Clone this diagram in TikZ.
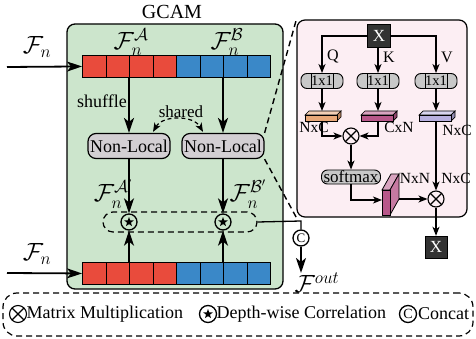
\documentclass[tikz,border=0pt]{standalone}
\usepackage{fontspec}
\setmainfont{Liberation Serif}
\usetikzlibrary{arrows.meta,shapes.geometric,calc}
\definecolor{gfill}{HTML}{CCE5CC}
\definecolor{pfill}{HTML}{FCEEF3}
\definecolor{cred}{HTML}{E94B3C}
\definecolor{cblue}{HTML}{3A88C8}
\definecolor{nlgray}{HTML}{D3CFD3}
\definecolor{kgray}{HTML}{C8C8C8}
\definecolor{dbox}{HTML}{333333}
\definecolor{qcol}{HTML}{E8A878}
\definecolor{kcol}{HTML}{B8578A}
\definecolor{vcol}{HTML}{B8B0E0}
\tikzset{
 fs/.style={font=\fontsize{#1}{#1}\selectfont},
 arr/.style={line width=1.8pt,-{Stealth[length=15pt,width=10pt,inset=4pt]}},
 parr/.style={line width=1.2pt,-{Stealth[length=9pt,width=7pt,inset=2.5pt]}},
 cell/.style={draw,line width=0.9pt,minimum width=23.5pt,minimum height=22pt,inner sep=0,anchor=north west},
 nl/.style={draw,line width=1.2pt,rounded corners=8pt,fill=nlgray,minimum width=82pt,minimum height=25pt,inner sep=0,fs=18},
 lab/.style={inner sep=0,fs=18},
 mlab/.style={inner sep=0,fs=23},
 plab/.style={inner sep=0,fs=15.5},
 starc/.style={circle,draw,line width=1.3pt,minimum size=16pt,inner sep=0},
 mul/.style={circle,draw,line width=1.1pt,minimum size=16pt,inner sep=0,
   path picture={\draw[line width=1.1pt] (path picture bounding box.south west)--(path picture bounding box.north east)
   (path picture bounding box.north west)--(path picture bounding box.south east);}},
 concat/.style={circle,draw,line width=1.3pt,minimum size=16pt,inner sep=0,fs=13},
 onexone/.style={draw,line width=0.9pt,rounded corners=6pt,fill=kgray,minimum width=42pt,minimum height=15pt,inner sep=0,fs=14.5,
   path picture={\draw[line width=0.9pt] ([xshift=10pt]path picture bounding box.south west)--([xshift=10pt]path picture bounding box.north west)
   ([xshift=-10pt]path picture bounding box.south east)--([xshift=-10pt]path picture bounding box.north east);}},
 xbox/.style={draw,fill=dbox,text=white,minimum width=23pt,minimum height=23pt,inner sep=0,fs=17},
 pics/flatslab/.style={code={
   \draw[line width=0.7pt,fill=#1!55!white] (-17,-1)--(-13,-5)--(19,-5)--(15,-1)--cycle;
   \draw[line width=0.7pt,fill=#1!80!black] (15,-1)--(19,-5)--(19,1)--(15,5)--cycle;
   \draw[line width=0.7pt,fill=#1] (-17,-1) rectangle (15,5);}}
}
\begin{document}
\begin{tikzpicture}[x=1pt,y=-1pt]
\useasboundingbox (0,0) rectangle (476,339);
% ---------- GCAM ----------
\node[fs=20,inner sep=0] (title) at (172,12) {GCAM};
\node[draw,line width=1.3pt,rounded corners=8pt,fill=gfill,minimum width=216pt,minimum height=265pt] (gbox) at (175,156.5) {};
\foreach \i in {0,...,3}{
  \node[cell,fill=cred] (t\i) at (82+23.5*\i,55) {};
  \node[cell,fill=cred] (b\i) at (82+23.5*\i,262) {};}
\foreach \i in {4,...,7}{
  \node[cell,fill=cblue] (t\i) at (82+23.5*\i,55) {};
  \node[cell,fill=cblue] (b\i) at (82+23.5*\i,262) {};}
\coordinate (in1) at (7,67);
\coordinate (in2) at (7,273);
\draw[arr] (in1) -- (t0.west);
\draw[arr] (in2) -- (b0.west);
\node[mlab] (fn1) at (37,47) {$\mathcal{F}_n$};
\node[mlab] (fn2) at (37,254) {$\mathcal{F}_n$};
\node[mlab] (fa) at (131,42) {$\mathcal{F}_n^{\mathcal{A}}$};
\node[mlab] (fb) at (227,42) {$\mathcal{F}_n^{\mathcal{B}}$};
\node[nl] (nlA) at (129,146) {Non-Local};
\node[nl] (nlB) at (223,146) {Non-Local};
\draw[arr] (t2.south west) -- (nlA.north);
\draw[arr] (t6.south west) -- (nlB.north);
\node[lab] (shuf) at (102,101) {shuffle};
\node[lab,fs=17] (shar) at (181,112) {shared};
\draw[line width=1.2pt,dash pattern=on 4pt off 3pt,{Stealth[length=9pt,width=7pt,inset=2.5pt]}-{Stealth[length=9pt,width=7pt,inset=2.5pt]}]
  ($(nlA.north)+(24,-1)$) to[out=60,in=120] ($(nlB.north)+(-20,-1)$);
\node[draw,line width=1.2pt,dash pattern=on 6pt off 4pt,rounded corners=10pt,minimum width=154pt,minimum height=20pt] (dbx) at (180,222) {};
\node[starc] (sA) at (129,222) {};
\node[starc] (sB) at (223,222) {};
\node[star,star points=5,star point ratio=2.4,fill,inner sep=0,minimum size=10pt] (stA) at (sA) {};
\node[star,star points=5,star point ratio=2.4,fill,inner sep=0,minimum size=10pt] (stB) at (sB) {};
\draw[arr] (nlA.south) -- (sA.north);
\draw[arr] (nlB.south) -- (sB.north);
\draw[arr] (b2.north west) -- (sA.south);
\draw[arr] (b6.north west) -- (sB.south);
\node[mlab] (fa2) at (113,194) {$\mathcal{F}_n^{\mathcal{A}'}$};
\node[mlab] (fb2) at (248,194) {$\mathcal{F}_n^{\mathcal{B}'}$};
\coordinate (oc) at (301,221);
\node[concat] (cc) at (301,238) {C};
\node[mlab] (fout) at (317,283) {$\mathcal{F}^{out}$};
\draw[line width=1.3pt] (dbx.east) -- (oc) -- (cc.north);
\draw[arr] (cc.south) -- (cc.south |- fout.north);
% ---------- Non-local detail ----------
\node[draw,line width=1.2pt,rounded corners=8pt,fill=pfill,minimum width=170pt,minimum height=197pt] (pbox) at (382,118.5) {};
\draw[line width=1.4pt,dash pattern=on 6pt off 4pt] (nlB.north east) -- (pbox.north west);
\draw[line width=1.4pt,dash pattern=on 6pt off 4pt] (nlB.south east) -- (pbox.south west);
\node[xbox] (xt) at (379,36) {X};
\node[onexone] (c1) at (322,81) {1x1};
\node[onexone] (c2) at (378,81) {1x1};
\node[onexone] (c3) at (436,81) {1x1};
\draw[parr] (xt.west) -| (c1.north);
\draw[parr] (xt.south -| c2) -- (c2.north);
\draw[parr] (xt.east) -| (c3.north);
\node[plab,fs=16] (lq) at (333,57) {Q};
\node[plab,fs=16] (lk) at (389,57) {K};
\node[plab,fs=16] (lv) at (447,57) {V};
\pic at (322,116) {flatslab=qcol};
\pic at (378,116) {flatslab=kcol};
\pic at (436,116) {flatslab=vcol};
\coordinate (qtop) at (322,111); \coordinate (qbot) at (322,121);
\coordinate (ktop) at (378,111); \coordinate (kbot) at (378,121);
\coordinate (vtop) at (436,111); \coordinate (vbot) at (436,121);
\draw[parr] (c1.south) -- (qtop);
\draw[parr] (c2.south) -- (ktop);
\draw[parr] (c3.south) -- (vtop);
\node[mul] (m1) at (351,136) {};
\draw[parr] (qbot) |- (m1.west);
\draw[parr] (kbot) |- (m1.east);
\node[plab] (nxc1) at (314,127) {NxC};
\node[plab] (cxn) at (399,127) {CxN};
\node[plab] (nxc2) at (457,130) {NxC};
\node[draw,line width=0.9pt,rounded corners=6pt,fill=kgray,minimum width=59pt,minimum height=14pt,inner sep=0,fs=17] (sm) at (351,177) {softmax};
\draw[parr] (m1.south) -- (sm.north);
\draw[line width=0.8pt,fill=kcol!55!white] (382,190)--(391,174)--(399,174)--(390,190)--cycle;
\draw[line width=0.8pt,fill=kcol!80!white] (390,190)--(399,174)--(399,199)--(390,215)--cycle;
\draw[line width=0.8pt,fill=kcol] (382,190) rectangle (390,215);
\coordinate (bin) at (382,200);
\coordinate (bout) at (399,199);
\draw[parr] (sm.south) |- (bin);
\node[mul] (m2) at (436,199) {};
\draw[parr] (bout) -- (m2.west);
\draw[parr] (vbot) -- (m2.north);
\node[plab] (nxn) at (415,178) {NxN};
\node[plab] (nxc3) at (456,178) {NxC};
\node[xbox,minimum width=22pt,minimum height=22pt] (xb) at (436,247) {X};
\draw[parr] (m2.south) -- (xb.north);
% ---------- legend ----------
\node[draw,line width=1.2pt,dash pattern=on 6pt off 4pt,rounded corners=14pt,minimum width=470pt,minimum height=43pt] (leg) at (238,314.5) {};
\node[mul,minimum size=17pt] (lg1) at (18,314) {};
\node[lab,anchor=west] (lt1) at (26.5,314) {Matrix Multiplication};
\node[starc,minimum size=17pt] (lg2) at (208,314) {};
\node[star,star points=5,star point ratio=2.4,fill,inner sep=0,minimum size=10pt] (lg2s) at (lg2) {};
\node[lab,anchor=west] (lt2) at (216.5,314) {Depth-wise Correlation};
\node[concat,minimum size=17pt,fs=14] (lg3) at (408,314) {C};
\node[lab,anchor=west] (lt3) at (418,314) {Concat};
\end{tikzpicture}
\end{document}
